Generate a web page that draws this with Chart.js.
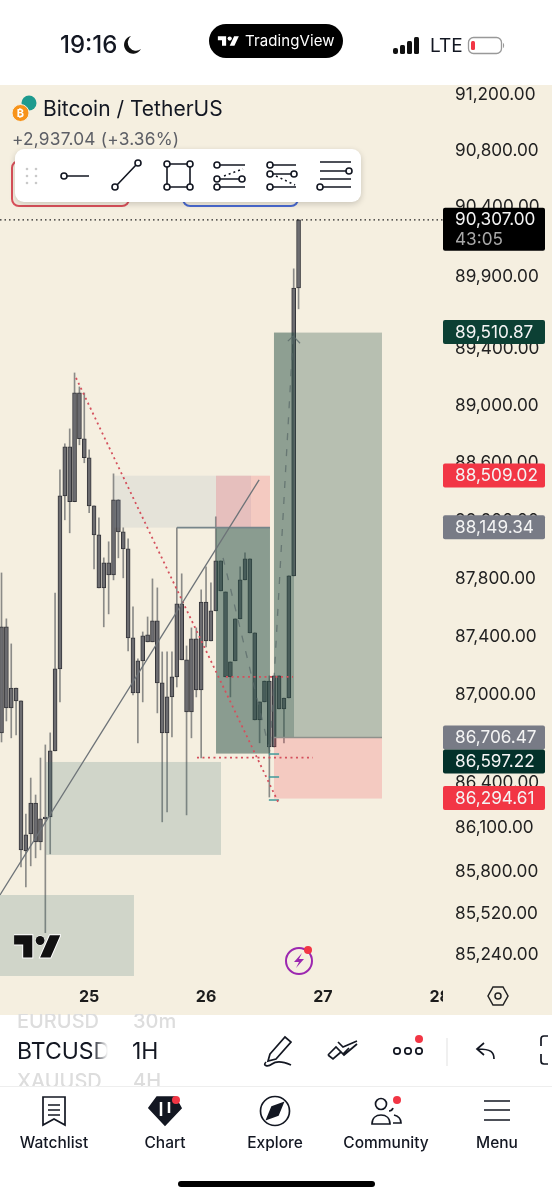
<!doctype html>
<html><head>
<meta charset="utf-8">
<script src="https://cdn.jsdelivr.net/npm/chart.js"></script>
<style type="text/css">
html, body { margin: 0; padding: 0; background: #fff; }
body { width: 552px; height: 1200px; position: relative; overflow: hidden; font-family: Inter, "Noto Sans", sans-serif; color: #131722; }
div, svg, span { position: absolute; }
#paper { left: 0; top: 85px; width: 552px; height: 930px; background: #f5efe0; }
#myChart { position: absolute; left: 0; top: 0; width: 552px; height: 1200px; }
.tab { top: 1133px; width: 110px; text-align: center; font-size: 15.5px; font-weight: 500; line-height: 20px; }
</style>
</head>
<body>
<div id="paper"></div>
<canvas id="myChart" width="552" height="1200"></canvas>

<!-- status bar -->
<div style="left:60px;top:31px;font-size:24px;font-weight:500;line-height:28px">19:16</div>
<svg style="left:123px;top:35px" width="20" height="20" viewBox="0 0 20 20"><path d="M8 1a9 9 0 1 0 10 13A8 8 0 0 1 8 1z" fill="#111"/></svg>
<div style="left:209px;top:24px;width:134px;height:34px;border-radius:17px;background:#000"></div>
<svg style="left:217px;top:35px" width="23" height="13" viewBox="0 0 36 22"><path d="M14 18H7V9H0V2h14v16zM28 18h-8l7.5-16h8L28 18z" fill="#fff"/><circle cx="20" cy="6" r="3.6" fill="#fff"/></svg>
<div style="left:245px;top:31px;color:#fff;font-size:15px;line-height:20px;letter-spacing:0.1px">TradingView</div>
<svg style="left:392px;top:37px" width="30" height="20" viewBox="0 0 30 20"><rect x="1" y="11" width="5" height="6" rx="2" fill="#111"/><rect x="8" y="8" width="5" height="9" rx="1.5" fill="#111"/><rect x="15" y="4" width="5" height="13" rx="1.5" fill="#111"/><rect x="22" y="0" width="5" height="17" rx="1.5" fill="#111"/></svg>
<div style="left:430px;top:35px;font-size:19px;line-height:22px">LTE</div>
<svg style="left:467px;top:36px" width="40" height="20" viewBox="0 0 40 20"><rect x="1.5" y="1.5" width="33" height="16" rx="5" fill="none" stroke="#999" stroke-width="1.3"/><rect x="4" y="5" width="4" height="9" rx="1.5" fill="#f23645"/><path d="M36 7v5c1.5-.5 1.5-4.500 0-5z" fill="#999"/></svg>

<!-- legend -->
<svg style="left:10px;top:94px" width="32" height="30" viewBox="0 0 32 30"><circle cx="19" cy="9" r="7.500" fill="#1d9a8e"/><circle cx="10.500" cy="19" r="8.500" stroke="#f5efe0" stroke-width="1" fill="#f7931a"/><text x="10.500" y="23" font-size="11" font-weight="700" fill="#fff" text-anchor="middle">₿</text></svg>
<div style="left:43px;top:95px;font-size:21px;line-height:27px">Bitcoin / TetherUS</div>
<div style="left:12px;top:129px;font-size:17.300px;line-height:20px;color:#5d5f66;letter-spacing:0.2px">+2,937.04 (+3.36%)</div>
<div style="left:11px;top:160px;width:115px;height:43px;border:2px solid #d9505a;border-radius:8px"></div>
<div style="left:182px;top:160px;width:113px;height:43px;border:2px solid #4a6ad0;border-radius:8px"></div>

<!-- drawing toolbar -->
<div style="left:15px;top:149px;width:346px;height:53px;background:#fff;border-radius:9px;box-shadow:0 2px 6px rgba(0,0,0,.18)"></div>
<svg style="left:15px;top:149px" width="346" height="53" viewBox="15 149 346 53" fill="#fff" stroke="#131722" stroke-width="1.600">
  <g fill="#c9c9c9" stroke="none"><circle cx="27" cy="169" r="1.300"/><circle cx="36" cy="169" r="1.300"/><circle cx="27" cy="176" r="1.300"/><circle cx="36" cy="176" r="1.300"/><circle cx="27" cy="183" r="1.300"/><circle cx="36" cy="183" r="1.300"/></g>
  <path d="M67 176H89M117 185L136 165M170 164H187M170 187H187M167 167V184M190 167V184M220 165H245M220 179H239M220 187H245M273 165H296M273 174H291M273 187H296M320 162H351M320 171H346M320 179H351M323 187H351"/>
  <path d="M224 176L243 169M276 176L295 185" stroke-dasharray="2 3"/>
  <circle cx="64" cy="176" r="3"/><circle cx="115" cy="187" r="3"/><circle cx="138" cy="163" r="3"/>
  <circle cx="167" cy="164" r="3"/><circle cx="190" cy="164" r="3"/><circle cx="167" cy="187" r="3"/><circle cx="190" cy="187" r="3"/>
  <circle cx="217" cy="165" r="3"/><circle cx="217" cy="179" r="3"/><circle cx="242" cy="179" r="3"/><circle cx="217" cy="187" r="3"/>
  <circle cx="270" cy="165" r="3"/><circle cx="270" cy="174" r="3"/><circle cx="294" cy="174" r="3"/><circle cx="270" cy="187" r="3"/>
  <circle cx="349" cy="171" r="3"/><circle cx="320" cy="187" r="3"/>
</svg>

<!-- watermark, bolt -->
<svg style="left:14px;top:934px" width="47" height="26" viewBox="0 0 36 20"><path d="M14 18H7V8H0V1h14v17zM28 18h-8l7.500-17h8L28 18z" fill="#111" stroke="#fff" stroke-width="1.500" paint-order="stroke"/><circle cx="20" cy="5" r="3.400" fill="#111" stroke="#fff" stroke-width="1" paint-order="stroke"/></svg>
<svg style="left:282px;top:943px" width="34" height="34" viewBox="0 0 34 34"><circle cx="17" cy="18" r="13" fill="none" stroke="#9c27b0" stroke-width="2"/><path d="M20 10l-8 9h5l-3 6 8-9h-5z" fill="#9c27b0"/><circle cx="26" cy="7" r="4" fill="#f23645"/></svg>

<!-- clips the last date, holds the settings hexagon -->
<div style="left:443px;top:977px;width:109px;height:38px;background:#f5efe0"></div>
<svg style="left:486px;top:984px" width="24" height="24" viewBox="0 0 24 24" fill="none" stroke="#222" stroke-width="1.500"><path d="M7 3H17L22 12L17 21H7L2 12z"/><circle cx="12" cy="12" r="3"/></svg>

<!-- symbol row -->
<div style="left:0;top:1015px;width:552px;height:185px;background:#fff"></div>
<div style="left:17px;top:1014px;width:90px;height:18px;overflow:hidden;color:#ddd;font-size:20px;line-height:14px;font-weight:500;white-space:nowrap">EURUSD</div>
<div style="left:133px;top:1014px;height:18px;overflow:hidden;color:#ddd;font-size:20px;line-height:14px;font-weight:500">30m</div>
<div style="left:17px;top:1037px;width:91px;overflow:hidden;font-size:23px;line-height:28px;white-space:nowrap">BTCUSD</div>
<div style="left:92px;top:1037px;width:16px;height:28px;background:linear-gradient(to right,rgba(255,255,255,0),#fff)"></div>
<div style="left:132px;top:1037px;font-size:23px;line-height:28px">1H</div>
<div style="left:17px;top:1072px;width:90px;height:14px;overflow:hidden;color:#ddd;font-size:20px;line-height:18px;font-weight:500;white-space:nowrap">XAUUSD</div>
<div style="left:133px;top:1072px;height:14px;overflow:hidden;color:#ddd;font-size:20px;line-height:18px;font-weight:500">4H</div>
<div style="left:0;top:1086px;width:552px;height:1px;background:#eee"></div>
<svg style="left:260px;top:1032px" width="292" height="36" viewBox="260 1032 292 36" fill="none" stroke="#131722" stroke-width="1.700">
  <path d="M270 1054L285 1037L291 1042L276 1059L268 1061zM266 1062c-4 4 2 5 6 2s10-3 19 1"/>
  <path d="M328 1055L336 1047L343 1054L349 1048M338 1042L343 1047L357 1041M328 1055L333 1059L341 1052L344 1055L357 1044"/>
  <circle cx="397" cy="1051" r="3.200"/><circle cx="408" cy="1051" r="3.200"/><circle cx="419" cy="1051" r="3.200"/>
  <circle cx="419" cy="1039" r="4" fill="#f23645" stroke="none"/>
  <path d="M447 1038V1066" stroke="#eee"/>
  <path d="M494 1059c0-7-3-10-16-10M484 1043L477 1049L484 1055"/>
  <path d="M548 1036H544a3 3 0 0 0-3 3V1046M541 1054V1061a3 3 0 0 0 3 3H548"/>
</svg>

<!-- tab bar -->
<svg style="left:0;top:1090px" width="552" height="40" viewBox="0 1090 552 40" fill="none" stroke="#131722" stroke-width="1.700">
  <path d="M43 1097H65V1125L54 1119L43 1125zM48 1105H60M48 1110H60M48 1115H60"/>
  <path d="M157 1097H175L181 1108L165 1125L149 1108z" fill="#131722"/>
  <path d="M161 1102V1116M169 1102V1113" stroke="#fff" stroke-width="2.500"/>
  <circle cx="176" cy="1100" r="4" fill="#f23645" stroke="none"/>
  <circle cx="275" cy="1111" r="14.500"/>
  <path d="M283 1103L278 1115L267 1119L272 1107z" fill="#131722"/>
  <circle cx="381" cy="1104" r="5.500"/><path d="M372 1124c0-6 4-9 9-9s9 3 9 9z"/><path d="M393 1108c-1 3-3 3-4 3M394 1115c4 1 7 4 7 8H393"/>
  <circle cx="397" cy="1100" r="4" fill="#f23645" stroke="none"/>
  <path d="M484 1101H510M484 1110H510M484 1120H510"/>
</svg>
<div class="tab" style="left:-1px">Watchlist</div>
<div class="tab" style="left:110px">Chart</div>
<div class="tab" style="left:220px">Explore</div>
<div class="tab" style="left:331px">Community</div>
<div class="tab" style="left:442px">Menu</div>
<div style="left:178px;top:1181px;width:197px;height:6px;border-radius:3px;background:#000"></div>

<script type="text/javascript">
// hourly candles
var wickHigh = [87827,87511,87339,87037,86949,86180,86424,86309,86560,86649,86731,87689,88541,88722,88826,89217,89119,89077,88680,88291,88208,87931,88042,88513,88333,88139,88063,87593,87236,87421,87524,87786,87724,87284,87284,87284,88139,87821,87325,87449,87449,87710,87869,87758,88215,87910,87696,87216,87511,87869,87966,87924,87415,86942,87085,87120,87120,87120,86969,87807,89949,90296];
var wickLow = [86669,86812,86697,86717,85823,85688,85830,85884,85938,85381,85911,86608,86942,88194,88104,88319,88715,88590,88243,87855,87724,87456,87545,87779,87931,87793,87291,86989,86663,86942,87353,87353,86867,86127,86194,86703,87044,87230,86174,86697,86976,86560,87319,87360,87566,87703,87113,86976,87223,87511,87779,87415,86819,86663,86942,86295,86635,86894,86663,86969,87807,89667];
var bodyTop = [87456,87456,87037,87037,86949,86039,86255,86255,86147,86160,86608,87168,88360,88701,88701,89077,89077,88757,88625,88291,88090,87897,87897,88333,88333,88111,87993,87380,87223,87394,87401,87497,87497,87072,86976,87113,87614,87614,87230,87373,87373,87627,87627,87566,87910,87910,87696,87216,87511,87779,87924,87924,87415,86942,87085,87085,87120,87120,86969,87807,89814,90296];
var bodyBottom = [86731,86901,86901,86949,85938,85931,86046,85992,85992,86147,86160,86608,87168,88360,88319,88319,88757,88625,88291,88090,87724,87724,87814,87814,88111,87993,87380,87003,87003,87223,87353,87353,87072,86731,86731,86976,87113,87230,86874,86874,87024,87024,87360,87360,87566,87703,87113,87113,87223,87511,87779,87415,86819,86819,86942,86635,86635,86894,86894,86969,87807,89814];

var dayTicks = [18, 42, 66, 90];
var dayLabels = ['25', '26', '27', '28'];
var priceTicks = [91200,90800,90400,89900,89400,89000,88600,88200,87800,87400,87000,86400,86100,85800,85520,85240];

var lastPrice = 90307;
var lastLineLevel = 90296;
var badgePrices = [89510.87, 88509.02, 88149.34, 86706.47, 86597.22, 86294.61];
var badgeColors = ['#0c4034', '#f23645', '#787b86', '#787b86', '#03312a', '#f23645'];

// [fromHour, toHour, topPrice, bottomPrice, colour]
var zones = [
    [23.1, 44.05, 88500, 88140, 'rgba(120,150,170,.13)'],
    [44.05, 55.13, 88500, 88140, 'rgba(242,54,69,.2)'],
    [44.05, 51.23, 88500, 88140, 'rgba(100,100,160,.1)'],
    [44.05, 55.13, 88140, 86590, 'rgba(40,80,70,.52)'],
    [55.95, 78.13, 89500, 86700, 'rgba(40,80,70,.3)'],
    [55.95, 60.06, 89500, 86700, 'rgba(40,80,70,.29)'],
    [55.95, 78.13, 86700, 86285, 'rgba(242,54,69,.2)'],
    [9.14, 45.07, 86533, 85904, 'rgba(60,110,110,.2)'],
    [-0.31, 27.2, 85634, 85091, 'rgba(60,110,110,.2)']
];

var trendLine = [{x: -0.31, y: 85634}, {x: 52.9, y: 88471}];
var redDiagonal = [{x: 15.3, y: 89182}, {x: 57, y: 86248}];
var redLevel = [{x: 40.14, y: 86563}, {x: 63.96, y: 86563}];
var redShort = [{x: 46.1, y: 87113}, {x: 59.86, y: 87113}];
var grayLevel = [{x: 36.04, y: 88140}, {x: 55.13, y: 88140}];
var entryLevel = [{x: 55.95, y: 86700}, {x: 78.13, y: 86700}];
var pricePath = [{x: 45.5, y: 87931}, {x: 55.13, y: 86601}, {x: 59.86, y: 89470}];
var pathHead = [{x: 58.8, y: 89440}, {x: 59.9, y: 89475}, {x: 61.3, y: 89425}];
var lastLine = [{x: -0.31, y: lastLineLevel}, {x: 90.66, y: lastLineLevel}];
var tealTicks = [
    [{x: 54.9, y: 86587}, {x: 57, y: 86587}],
    [{x: 54.9, y: 86431}, {x: 57, y: 86431}],
    [{x: 54.9, y: 86275}, {x: 57, y: 86275}]
];

function lineSet(points, color, width, dash) {
    return {
        type: 'line', data: points, borderColor: color, borderWidth: width,
        borderDash: dash || [], pointRadius: 0, fill: false, tension: 0, order: 1
    };
}

function priceText(v) {
    return v.toLocaleString('en-US', {minimumFractionDigits: 2, maximumFractionDigits: 2});
}

var axisFont = {family: 'Inter', size: 17.2};

// shaded zones go over the candles so those show through them
var zonePlugin = {
    id: 'zones',
    afterDatasetDraw: function(chart, args) {
        if (args.index !== 1) return;
        var c = chart.ctx, xs = chart.scales.x, ys = chart.scales.y;
        c.save();
        zones.forEach(function(z) {
            var x0 = xs.getPixelForValue(z[0]), x1 = xs.getPixelForValue(z[1]);
            var y0 = ys.getPixelForValue(z[2]), y1 = ys.getPixelForValue(z[3]);
            c.fillStyle = z[4];
            c.fillRect(x0, y0, x1 - x0, y1 - y0);
        });
        c.restore();
    }
};

// price labels on the axis
var badgePlugin = {
    id: 'badges',
    afterDraw: function(chart) {
        var c = chart.ctx, ys = chart.scales.y;
        var left = chart.chartArea.right, w = 102;
        c.save();
        c.textAlign = 'left';
        c.textBaseline = 'middle';
        c.font = axisFont.size + 'px Inter';
        badgePrices.forEach(function(p, i) {
            var y = ys.getPixelForValue(p) + 1;
            if (i === 4) y += 8;  // pushed down by the label above it
            c.fillStyle = badgeColors[i];
            c.beginPath();
            c.roundRect(left, y - 12, w, 24, 2);
            c.fill();
            c.fillStyle = '#f4f4f4';
            c.fillText(priceText(p), left + 12, y + 0.5);
        });
        var y = ys.getPixelForValue(lastLineLevel);
        c.fillStyle = '#000';
        c.beginPath();
        c.roundRect(left, y - 12, w, 43, 2);
        c.fill();
        c.fillStyle = '#f4f4f4';
        c.fillText(priceText(lastPrice), left + 12, y);
        c.fillStyle = '#a8a8a8';
        c.fillText('43:05', left + 12, y + 20);
        c.restore();
    }
};

var candles = wickHigh.map(function(v, i) { return i; });

var datasets = [
    {
        type: 'bar', grouped: false, order: 3, barThickness: 1,
        backgroundColor: '#8b8b88',
        data: candles.map(function(i) { return {x: i, y: [wickLow[i], wickHigh[i]]}; })
    },
    {
        type: 'bar', grouped: false, order: 2, barThickness: 4,
        backgroundColor: '#6c6c70', borderColor: '#35353a', borderWidth: 1, borderSkipped: false,
        data: candles.map(function(i) { return {x: i, y: [bodyBottom[i], bodyTop[i]]}; })
    },
    lineSet(trendLine, '#6d7378', 1.3),
    lineSet(redDiagonal, '#d4505c', 1.8, [2, 3.5]),
    lineSet(redLevel, '#d4505c', 1.8, [2, 3.5]),
    lineSet(redShort, '#d4505c', 1.8, [2, 3.5]),
    lineSet(grayLevel, '#76858a', 1.8),
    lineSet(entryLevel, '#8f918c', 1.5),
    lineSet(pricePath, 'rgba(90,105,105,.75)', 1.3, [7, 9]),
    lineSet(pathHead, 'rgba(90,105,105,.8)', 1.2),
    lineSet(lastLine, '#222', 1.3, [1.5, 3])
];
tealTicks.forEach(function(t) { datasets.push(lineSet(t, '#3f9a9a', 1.5)); });

new Chart(document.getElementById('myChart'), {
    data: {datasets: datasets},
    plugins: [zonePlugin, badgePlugin],
    options: {
        responsive: false,
        animation: false,
        layout: {padding: {top: 85, bottom: 185, left: 0, right: 0}},
        plugins: {legend: {display: false}, tooltip: {enabled: false}},
        scales: {
            x: {
                type: 'linear', min: -0.31, max: 90.66, offset: false,
                grid: {display: false, drawTicks: false}, border: {display: false},
                afterBuildTicks: function(s) { s.ticks = dayTicks.map(function(v) { return {value: v}; }); },
                afterFit: function(s) { s.height = 39; },
                ticks: {
                    autoSkip: false, maxRotation: 0, padding: 12, color: '#1c1c1c',
                    font: {family: 'Inter', size: 16, weight: '700'},
                    callback: function(v) { return dayLabels[dayTicks.indexOf(v)]; }
                }
            },
            y: {
                type: 'logarithmic', position: 'right', min: 85091, max: 91257,
                grid: {display: false, drawTicks: false}, border: {display: false},
                afterBuildTicks: function(s) { s.ticks = priceTicks.map(function(v) { return {value: v}; }); },
                afterFit: function(s) { s.width = 109; },
                ticks: {
                    autoSkip: false, padding: 12, labelOffset: 1.5, color: '#222', font: axisFont,
                    callback: function(v) { return priceText(v); }
                }
            }
        }
    }
});
</script>
</body>
</html>
